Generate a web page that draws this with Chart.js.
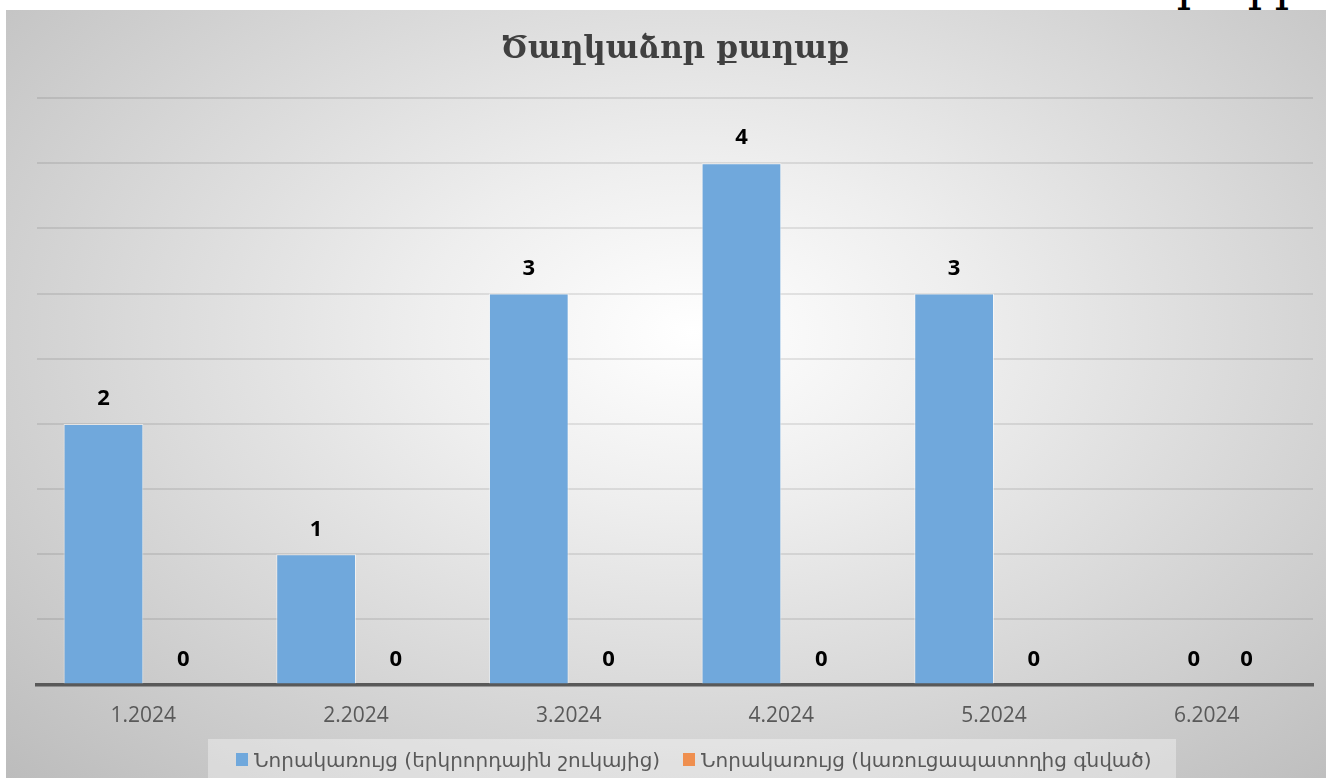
<!DOCTYPE html>
<html>
<head>
<meta charset="utf-8">
<script src="https://cdn.jsdelivr.net/npm/chart.js@4.4.1/dist/chart.umd.min.js"></script>
<style>
  html, body { margin: 0; padding: 0; background: #ffffff; width: 1326px; height: 778px; overflow: hidden; }
  #cut { position: absolute; top: -41px; left: 0; width: 1326px; height: 60px; font-family: "DejaVu Serif", serif; font-size: 48px; line-height: 48px; color: #000; z-index: 0; }
  #cut span { position: absolute; top: 0; }
  #wrap { position: absolute; left: 6px; top: 10px; width: 1320px; height: 768px; z-index: 1;
    background: radial-gradient(ellipse farthest-corner at 52% 42%, #ffffff 0%, #eeeeee 28%, #bcbcbc 100%); }
  #chart { position: absolute; left: 0; top: 0; }
  #legend { position: absolute; left: 202px; top: 729px; width: 968px; height: 39px; background: rgba(255,255,255,0.35);
    font-family: "DejaVu Sans", sans-serif; font-size: 20px; color: #595959; }
  .item { position: absolute; top: 1px; height: 39px; display: flex; align-items: center; white-space: nowrap; }
  .sw { width: 12px; height: 13px; margin-right: 6px; box-sizing: border-box; }
</style>
</head>
<body>
<div id="cut"><span style="left:1176px">ր</span><span style="left:1247px">ր</span><span style="left:1274px">ր</span></div>
<div id="wrap">
  <canvas id="chart" width="1320" height="768"></canvas>
  <div id="legend"></div>
</div>
<script>
const categories = ['1.2024', '2.2024', '3.2024', '4.2024', '5.2024', '6.2024'];
const seriesSecondary = [2, 1, 3, 4, 3, 0];
const seriesDeveloper = [0, 0, 0, 0, 0, 0];
const seriesNames = ['Նորակառույց (երկրորդային շուկայից)', 'Նորակառույց (կառուցապատողից գնված)'];
const seriesColors = ['#70A8DC', '#EF8F4F'];
const chartTitle = 'Ծաղկաձոր քաղաք';
const yMax = 4.5;
const yStep = 0.5;

// HTML legend built from the series arrays
const legendEl = document.getElementById('legend');
const legendX = [28, 475];
seriesNames.forEach((name, i) => {
  const it = document.createElement('div');
  it.className = 'item';
  it.style.left = legendX[i] + 'px';
  const sw = document.createElement('span');
  sw.className = 'sw';
  sw.style.background = seriesColors[i];
  const tx = document.createElement('span');
  tx.textContent = name;
  it.appendChild(sw); it.appendChild(tx);
  legendEl.appendChild(it);
});

const valueLabels = {
  id: 'valueLabels',
  afterDatasetsDraw(chart) {
    const ctx = chart.ctx;
    ctx.save();
    ctx.font = 'bold 22px "Open Sans", sans-serif';
    ctx.fillStyle = '#000000';
    ctx.textAlign = 'center';
    ctx.textBaseline = 'middle';
    chart.data.datasets.forEach((ds, di) => {
      const meta = chart.getDatasetMeta(di);
      meta.data.forEach((bar, i) => {
        const v = ds.data[i];
        let x = bar.x;
        if (di === 0 && v === 0) x += 27;
        ctx.fillText(String(v), x, bar.y - 25);
      });
    });
    ctx.restore();
  }
};

new Chart(document.getElementById('chart'), {
  type: 'bar',
  data: {
    labels: categories,
    datasets: [
      { label: seriesNames[0], data: seriesSecondary, backgroundColor: seriesColors[0],
        borderColor: 'rgba(255,255,255,0.55)', borderWidth: 1 },
      { label: seriesNames[1], data: seriesDeveloper, backgroundColor: seriesColors[1], borderWidth: 0 }
    ]
  },
  options: {
    responsive: false,
    devicePixelRatio: 1,
    animation: false,
    layout: { padding: { left: 31, right: 13, top: 0, bottom: 31.4 } },
    datasets: { bar: { categoryPercentage: 0.75, barPercentage: 1 } },
    plugins: {
      legend: { display: false },
      tooltip: { enabled: false },
      title: {
        display: true, text: chartTitle, color: '#404040',
        font: { family: '"DejaVu Serif", serif', size: 31, weight: 'bold', lineHeight: 1.2 },
        padding: { top: 21.5, bottom: 29.3 }
      }
    },
    scales: {
      x: {
        grid: { display: false, drawTicks: false },
        border: { display: true, color: '#595959', width: 3.5 },
        ticks: { color: '#595959', font: { family: '"Open Sans", sans-serif', size: 21, lineHeight: 1.2 }, padding: 18.4, maxRotation: 0 }
      },
      y: {
        min: 0, max: yMax,
        grid: { color: 'rgba(0,0,0,0.09)', lineWidth: 2, drawTicks: false },
        border: { display: false },
        ticks: { display: false, stepSize: yStep }
      }
    }
  },
  plugins: [valueLabels]
});
</script>
</body>
</html>
